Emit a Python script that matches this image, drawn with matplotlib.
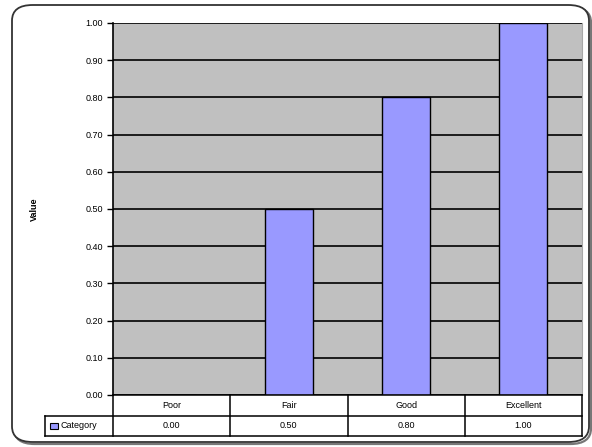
import matplotlib
matplotlib.use("Agg")
import matplotlib.pyplot as plt
from matplotlib.patches import FancyBboxPatch

categories = ["Poor", "Fair", "Good", "Excellent"]
values = [0.00, 0.50, 0.80, 1.00]
series_name = "Category"
y_ticks = [0.0, 0.1, 0.2, 0.3, 0.4, 0.5, 0.6, 0.7, 0.8, 0.9, 1.0]

W, H = 592, 447
BAR_COLOR = "#9999FF"
PLOT_BG = "#C0C0C0"
FS = 6.5

plt.rcParams["font.family"] = ["Liberation Sans", "DejaVu Sans"]

fig = plt.figure(figsize=(W / 100, H / 100), dpi=100)

# rounded outer frame with a thin shadow on the right/bottom (kept behind the axes)
shadow = FancyBboxPatch((14 / W, 3 / H), 577 / W, 437 / H,
                        boxstyle="round,pad=0,rounding_size=0.035",
                        transform=fig.transFigure, fill=False,
                        edgecolor="#777777", linewidth=1.6, zorder=-2)
frame = FancyBboxPatch((12 / W, 5 / H), 577 / W, 437 / H,
                       boxstyle="round,pad=0,rounding_size=0.035",
                       transform=fig.transFigure, facecolor="white",
                       edgecolor="#333333", linewidth=1.3, zorder=-1)
fig.patches.extend([shadow, frame])

# main plot area (pixel coordinates -> figure fractions)
px_left, px_right, px_top, px_bottom = 113, 582, 23, 395
ax = fig.add_axes([px_left / W, (H - px_bottom) / H,
                   (px_right - px_left) / W, (px_bottom - px_top) / H])
ax.set_facecolor(PLOT_BG)
x = list(range(len(categories)))
ax.bar(x, values, width=0.41, color=BAR_COLOR, edgecolor="black",
       linewidth=1.0, zorder=3)
ax.set_xlim(-0.5, len(categories) - 0.5)
ax.set_ylim(0, 1.0)
ax.set_yticks(y_ticks)
ax.set_yticklabels([f"{v:.2f}" for v in y_ticks], fontsize=FS)
ax.tick_params(axis="y", length=4, width=1, pad=3)
ax.set_xticks([])
ax.yaxis.grid(True, color="black", linewidth=1.2, zorder=1)
ax.set_axisbelow(True)
for side in ("top", "bottom"):
    ax.spines[side].set_visible(False)
ax.spines["right"].set_color("#A8A8A8")
ax.spines["left"].set_linewidth(1.2)
ax.set_ylabel("Value", fontsize=FS, fontweight="bold")
ax.yaxis.set_label_coords((39 - px_left) / (px_right - px_left), 0.5)

# data table below the plot
cat_w = (px_right - px_left) / len(categories)
tbl_left, tbl_top, tbl_bottom = 45, 395, 436
tax = fig.add_axes([tbl_left / W, (H - tbl_bottom) / H,
                    (px_right - tbl_left) / W, (tbl_bottom - tbl_top) / H])
left_units = -0.5 - (px_left - tbl_left) / cat_w
tax.set_xlim(left_units, len(categories) - 0.5)
tax.set_ylim(0, 2)
tax.axis("off")
lw = 1.1
# horizontal lines
tax.plot([-0.5, len(categories) - 0.5], [2, 2], color="black", lw=lw, clip_on=False)
tax.plot([left_units, len(categories) - 0.5], [1, 1], color="black", lw=lw, clip_on=False)
tax.plot([left_units, len(categories) - 0.5], [0, 0], color="black", lw=lw, clip_on=False)
# vertical lines
tax.plot([left_units, left_units], [0, 1], color="black", lw=lw, clip_on=False)
for i in range(len(categories) + 1):
    tax.plot([i - 0.5, i - 0.5], [0, 2], color="black", lw=lw, clip_on=False)
for i, (c, v) in enumerate(zip(categories, values)):
    tax.text(i, 1.5, c, ha="center", va="center", fontsize=FS)
    tax.text(i, 0.5, f"{v:.2f}", ha="center", va="center", fontsize=FS)
# legend key in table
tax.add_patch(plt.Rectangle((left_units + 0.04, 0.35), 0.07, 0.3,
                            facecolor=BAR_COLOR, edgecolor="black",
                            linewidth=0.8, clip_on=False))
tax.text(left_units + 0.13, 0.5, series_name, ha="left", va="center", fontsize=FS)

fig.savefig("out.png", dpi=100)
